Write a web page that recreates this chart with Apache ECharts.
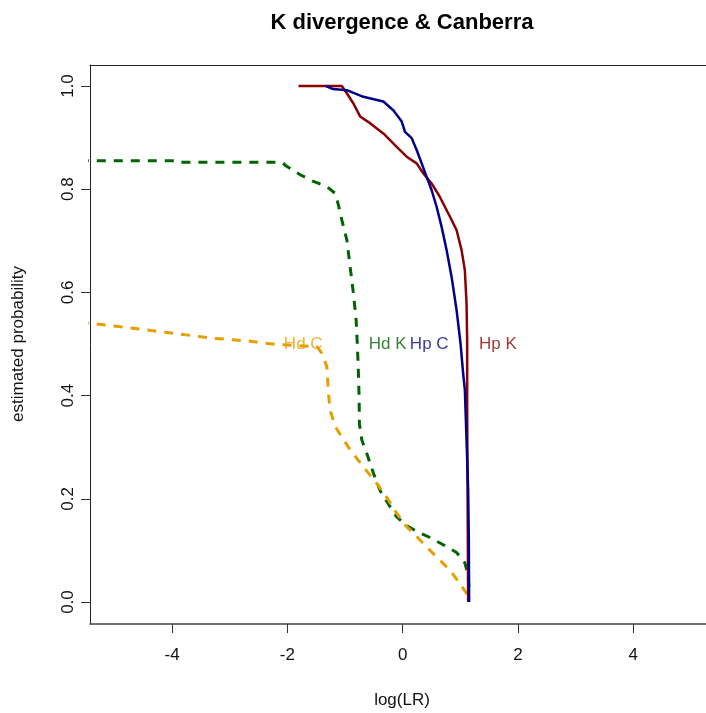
<!DOCTYPE html>
<html>
<head>
<meta charset="utf-8">
<title>K divergence &amp; Canberra</title>
<script src="https://cdn.jsdelivr.net/npm/echarts@6/dist/echarts.min.js"></script>
<style>
  html, body { margin: 0; padding: 0; background: #fff; }
  #chart { width: 706px; height: 713px; }
</style>
</head>
<body>
<div id="chart"></div>
<script>
// Estimated probability curves against log(LR) for the two measures.
// Each curve is a list of [log(LR), probability] pairs.
const hpC = [
  [-1.33, 1.000], [-1.206, 0.994], [-0.969, 0.992], [-0.682, 0.979], [-0.336, 0.970],
  [-0.163, 0.953], [-0.017, 0.931], [0.040, 0.911], [0.156, 0.899], [0.242, 0.876],
  [0.329, 0.850], [0.415, 0.824], [0.502, 0.798], [0.588, 0.766], [0.675, 0.727],
  [0.761, 0.682], [0.848, 0.630], [0.934, 0.566], [1.003, 0.501], [1.048, 0.443],
  [1.078, 0.411], [1.107, 0.314], [1.135, 0.217], [1.147, 0.120], [1.152, 0.000]
];
const hpK = [
  [-1.806, 1.000], [-1.055, 1.000], [-0.969, 0.986], [-0.855, 0.966], [-0.739, 0.941],
  [-0.566, 0.928], [-0.336, 0.908], [-0.104, 0.882], [0.069, 0.863], [0.242, 0.850],
  [0.356, 0.831], [0.502, 0.811], [0.645, 0.785], [0.818, 0.747], [0.934, 0.721],
  [1.021, 0.682], [1.078, 0.643], [1.107, 0.579], [1.118, 0.508], [1.118, 0.391],
  [1.125, 0.217], [1.135, 0.000]
];
const hdK = [
  [-5.6, 0.855], [-3.90, 0.855], [-3.85, 0.852], [-2.093, 0.852], [-2.007, 0.844],
  [-1.777, 0.828], [-1.547, 0.815], [-1.315, 0.805], [-1.171, 0.792], [-1.114, 0.769],
  [-1.055, 0.740], [-0.969, 0.702], [-0.912, 0.650], [-0.855, 0.598], [-0.808, 0.547],
  [-0.785, 0.495], [-0.768, 0.443], [-0.756, 0.398], [-0.751, 0.346], [-0.709, 0.314],
  [-0.623, 0.288], [-0.509, 0.250], [-0.393, 0.216], [-0.249, 0.190], [-0.104, 0.165],
  [0.069, 0.148], [0.242, 0.137], [0.472, 0.125], [0.702, 0.111], [0.934, 0.096],
  [1.078, 0.076], [1.135, 0.052], [1.152, 0.025]
];
const hdC = [
  [-5.6, 0.542], [-5.41, 0.540], [-5.007, 0.535], [-4.429, 0.527], [-3.853, 0.519],
  [-3.277, 0.511], [-2.699, 0.506], [-2.18, 0.499], [-2.007, 0.498], [-1.488, 0.495],
  [-1.401, 0.482], [-1.315, 0.456], [-1.287, 0.404], [-1.258, 0.372], [-1.171, 0.340],
  [-1.055, 0.320], [-0.912, 0.295], [-0.682, 0.262], [-0.450, 0.230], [-0.249, 0.198],
  [-0.104, 0.172], [0.069, 0.146], [0.242, 0.127], [0.415, 0.107], [0.645, 0.081],
  [0.818, 0.062], [0.991, 0.036], [1.107, 0.017], [1.135, 0.007]
];

// Curve labels: text and where it sits in data space.
const labelNames = ['Hd C', 'Hd K', 'Hp C', 'Hp K'];
const labelX = [-1.725, -0.26, 0.46, 1.65];
const labelY = [0.5, 0.5, 0.5, 0.5];

const xTicks = [-4, -2, 0, 2, 4];
const yTicks = [0, 0.2, 0.4, 0.6, 0.8, 1.0];

const colors = {
  hpC: '#00008B',
  hpK: '#8B0000',
  hdK: '#006400',
  hdC: '#E69F00'
};
const labelColors = [colors.hdC, colors.hdK, colors.hpC, colors.hpK];

const FONT = 'Liberation Sans, Arial, Helvetica, sans-serif';
const X_MIN = -5.423, X_MAX = 5.26;

const chart = echarts.init(document.getElementById('chart'), null, { renderer: 'canvas' });

function lineSeries(name, data, color, dashed) {
  return {
    name: name,
    type: 'line',
    data: data,
    showSymbol: false,
    symbol: 'none',
    clip: true,
    z: 3,
    lineStyle: dashed
      ? { color: color, width: 3, type: [9, 8] }
      : { color: color, width: 2.5 },
    emphasis: { disabled: true }
  };
}

chart.setOption({
  animation: false,
  backgroundColor: '#ffffff',
  textStyle: { fontFamily: FONT },
  grid: {
    left: 90, top: 65, right: 0, bottom: 89,
    show: false,
    containLabel: false
  },
  xAxis: [
    {
      type: 'value',
      min: X_MIN, max: X_MAX,
      axisLine: { show: true, onZero: false, lineStyle: { color: '#444', width: 1.5 } },
      axisTick: { show: true, length: 9, customValues: xTicks, lineStyle: { color: '#333', width: 1 } },
      axisLabel: {
        customValues: xTicks, margin: 23, fontSize: 17, color: '#111', fontFamily: FONT,
        formatter: v => String(v)
      },
      splitLine: { show: false }
    },
    {
      // top edge of the plot frame
      type: 'value', position: 'top',
      min: X_MIN, max: X_MAX,
      axisLine: { show: true, onZero: false, lineStyle: { color: '#222', width: 1 } },
      axisTick: { show: false },
      axisLabel: { show: false },
      splitLine: { show: false }
    }
  ],
  yAxis: {
    type: 'value',
    min: -0.0426, max: 1.0407,
    axisLine: { show: true, onZero: false, lineStyle: { color: '#222', width: 1 } },
    axisTick: { show: true, length: 9, customValues: yTicks, lineStyle: { color: '#333', width: 1 } },
    axisLabel: {
      customValues: yTicks, rotate: 90, margin: 13, fontSize: 17, color: '#111', fontFamily: FONT,
      formatter: v => v.toFixed(1)
    },
    splitLine: { show: false }
  },
  series: [
    lineSeries('Hd K', hdK, colors.hdK, true),
    lineSeries('Hd C', hdC, colors.hdC, true),
    lineSeries('Hp K', hpK, colors.hpK, false),
    lineSeries('Hp C', hpC, colors.hpC, false),
    {
      name: 'labels',
      type: 'scatter',
      symbolSize: 0,
      z: 5,
      silent: true,
      data: labelNames.map((n, i) => ({
        name: n,
        value: [labelX[i], labelY[i]],
        label: { color: labelColors[i] }
      })),
      label: {
        show: true,
        position: 'inside',
        formatter: '{b}',
        fontSize: 17,
        fontFamily: FONT
      }
    }
  ],
  graphic: [
    {
      type: 'text',
      style: { text: 'K divergence & Canberra', font: 'bold 22px ' + FONT, fill: '#000', textAlign: 'center', textVerticalAlign: 'middle' },
      x: 402, y: 23, z: 10
    },
    {
      type: 'text',
      style: { text: 'log(LR)', font: '17px ' + FONT, fill: '#111', textAlign: 'center', textVerticalAlign: 'middle' },
      x: 402, y: 700, z: 10
    },
    {
      type: 'text',
      style: { text: 'estimated probability', font: '17px ' + FONT, fill: '#111', textAlign: 'center', textVerticalAlign: 'middle' },
      x: 18, y: 344, rotation: Math.PI / 2, z: 10
    }
  ]
});
</script>
</body>
</html>
